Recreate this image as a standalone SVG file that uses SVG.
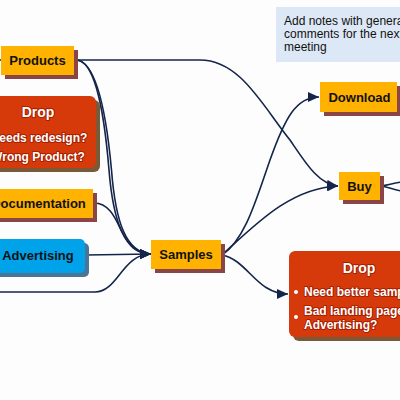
<svg xmlns="http://www.w3.org/2000/svg" width="400" height="400" viewBox="0 0 400 400">
<style>
.lbl{font-family:"Liberation Sans",Arial,sans-serif;font-weight:bold;font-size:13px;fill:#111;text-anchor:middle}
.dt{font-family:"Liberation Sans",Arial,sans-serif;font-weight:bold;fill:#fff;stroke:#a82000;stroke-width:2;paint-order:stroke;stroke-linejoin:round}
.note{font-family:"Liberation Sans",Arial,sans-serif;font-size:12px;fill:#111}
.org{fill:#ffb200}
.osh{fill:#8a4646}
.red{fill:#d63a0a}
.rsh{fill:#7a5a36}
.con{fill:none;stroke:#14254a;stroke-width:1.6}
</style>
<defs>
<marker id="arr" markerUnits="userSpaceOnUse" markerWidth="11" markerHeight="10" refX="11" refY="5" orient="auto">
<path d="M0,0 L11,5 L0,10 z" fill="#14254a"/>
</marker>
</defs>
<rect width="400" height="400" fill="#fdfdfe"/>

<g id="note">
<rect x="276" y="7" width="140" height="55" fill="#dde8f6"/>
<text class="note" x="284" y="25">Add notes with general</text>
<text class="note" x="284" y="38">comments for the next</text>
<text class="note" x="284" y="51">meeting</text>
</g>

<g id="connectors">
<path class="con" d="M-10 60 L1 60"/>
<path class="con" d="M76 60 L200 60 C240 60 262 105 290 140 C305 162 318 184 338 186" marker-end="url(#arr)"/>
<path class="con" d="M76 60 C95 60 104 110 109 170 C113 220 124 254 151 254" marker-end="url(#arr)"/>
<path class="con" d="M76 60 C96 61 106 110 111.5 170 C115.5 222 126 253 151 254"/>
<path class="con" d="M94 203 C110 203 116 220 122 232 C129 246 136 254 151 254" marker-end="url(#arr)"/>
<path class="con" d="M86 255 L151 254" marker-end="url(#arr)"/>
<path class="con" d="M-10 292 L95 292 C118 292 122 254 151 254" marker-end="url(#arr)"/>
<path class="con" d="M222 255 C245 240 256 200 270 160 C285 118 296 97 319 97" marker-end="url(#arr)"/>
<path class="con" d="M222 255 C255 225 290 188 338 186" marker-end="url(#arr)"/>
<path class="con" d="M222 255 C248 260 256 294 288 294" marker-end="url(#arr)"/>
<path class="con" d="M381 186 C388 185 394 183 402 182"/>
<path class="con" d="M381 186 C388 187 394 190 402 191"/>
</g>

<g id="products">
<rect class="osh" x="5" y="50" width="73" height="29"/>
<rect class="org" x="1" y="46" width="73" height="29"/>
<text class="lbl" x="37.5" y="65">Products</text>
</g>

<g id="drop1">
<rect class="rsh" x="-16" y="100" width="116" height="72" rx="6"/>
<rect class="red" x="-20" y="96" width="116" height="72" rx="6"/>
<text class="dt" x="38" y="117" font-size="14" text-anchor="middle">Drop</text>
<text class="dt" x="39" y="142" font-size="12" text-anchor="middle">Needs redesign?</text>
<text class="dt" x="38" y="161" font-size="12" text-anchor="middle">Wrong Product?</text>
</g>

<g id="documentation">
<rect class="osh" x="-16" y="193" width="113" height="29"/>
<rect class="org" x="-20" y="189" width="113" height="29"/>
<text class="lbl" x="38.5" y="208">Documentation</text>
</g>

<g id="advertising">
<rect x="-6" y="243" width="95" height="34" rx="5" fill="#4a7597"/>
<rect x="-10" y="239" width="95" height="34" rx="5" fill="#00a3ea"/>
<text class="lbl" x="38" y="260">Advertising</text>
</g>

<g id="samples">
<rect class="osh" x="155" y="244" width="70" height="29"/>
<rect class="org" x="151" y="240" width="70" height="29"/>
<text class="lbl" x="186" y="259">Samples</text>
</g>

<g id="download">
<rect class="osh" x="324" y="86" width="77" height="30"/>
<rect class="org" x="320" y="82" width="77" height="30"/>
<text class="lbl" x="359.5" y="101.5">Download</text>
</g>

<g id="buy">
<rect class="osh" x="343" y="176" width="41" height="28"/>
<rect class="org" x="339" y="172" width="41" height="28"/>
<text class="lbl" x="359.5" y="190.5">Buy</text>
</g>

<g id="drop2">
<rect class="rsh" x="293" y="255" width="140" height="86" rx="6"/>
<rect class="red" x="289" y="251" width="140" height="86" rx="6"/>
<text class="dt" x="359" y="273" font-size="14" text-anchor="middle">Drop</text>
<circle cx="296" cy="292" r="2" fill="#fff"/>
<text class="dt" x="304" y="296" font-size="12">Need better samples</text>
<circle cx="296" cy="317" r="2" fill="#fff"/>
<text class="dt" x="304" y="315" font-size="12">Bad landing page</text>
<text class="dt" x="304" y="329" font-size="12">Advertising?</text>
</g>
</svg>
